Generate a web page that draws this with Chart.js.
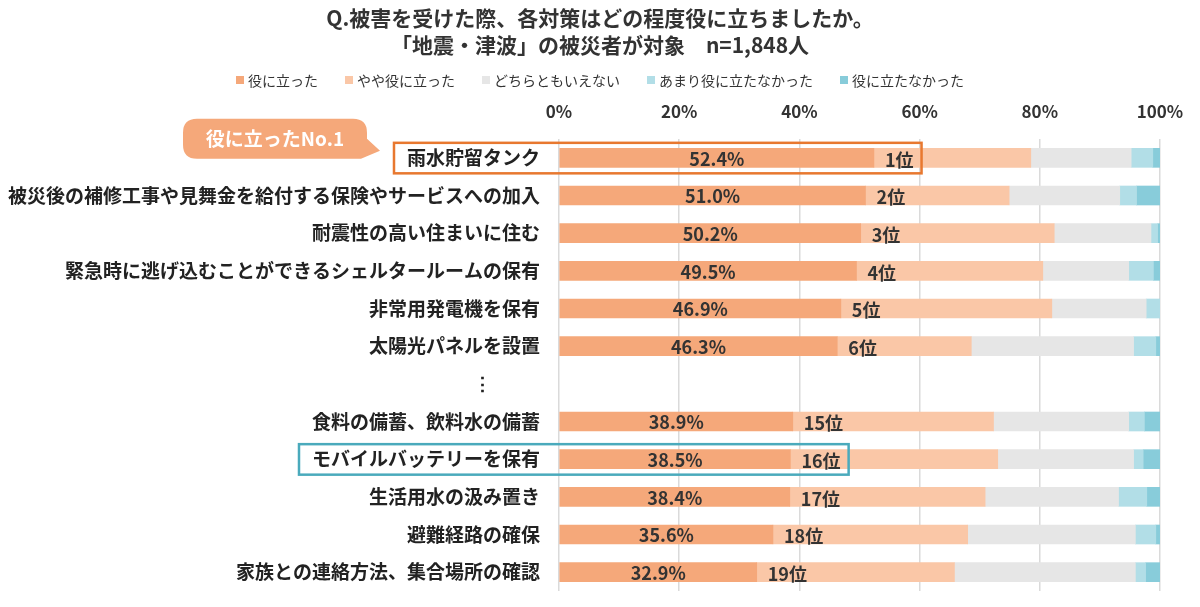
<!DOCTYPE html>
<html lang="ja">
<head>
<meta charset="utf-8">
<script src="https://cdn.jsdelivr.net/npm/chart.js@4.4.1/dist/chart.umd.min.js"></script>
<style>
  html, body { margin: 0; padding: 0; background: #ffffff; }
  #wrap { width: 1200px; height: 607px; position: relative; }
</style>
</head>
<body>
<div id="wrap"><canvas id="c" width="1200" height="607"></canvas></div>
<script>
const titleLines = ['Q.被害を受けた際、各対策はどの程度役に立ちましたか。', '「地震・津波」の被災者が対象　n=1,848人'];
const categories = ['雨水貯留タンク', '被災後の補修工事や見舞金を給付する保険やサービスへの加入', '耐震性の高い住まいに住む', '緊急時に逃げ込むことができるシェルタールームの保有', '非常用発電機を保有', '太陽光パネルを設置', '⋮\u3000\u3000\u2002', '食料の備蓄、飲料水の備蓄', 'モバイルバッテリーを保有', '生活用水の汲み置き', '避難経路の確保', '家族との連絡方法、集合場所の確認'];
const ranks = ['1位', '2位', '3位', '4位', '5位', '6位', '', '15位', '16位', '17位', '18位', '19位'];
const seriesNames = ['役に立った', 'やや役に立った', 'どちらともいえない', 'あまり役に立たなかった', '役に立たなかった'];
const helpful  = [52.4, 51.0, 50.2, 49.5, 46.9, 46.3, null, 38.9, 38.5, 38.4, 35.6, 32.9];
const somewhat = [26.1, 23.9, 32.2, 31.0, 35.1, 22.3, null, 33.4, 34.5, 32.5, 32.4, 32.9];
const neutral  = [16.7, 18.4, 16.1, 14.3, 15.7, 27.0, null, 22.5, 22.6, 22.2, 27.9, 30.1];
const notVery  = [3.6, 2.8, 1.1, 4.1, 2.3, 3.7, null, 2.6, 1.6, 4.7, 3.4, 1.7];
const notAtAll = [1.2, 3.9, 0.4, 1.1, 0.0, 0.7, null, 2.6, 2.8, 2.2, 0.7, 2.4];
const xTicks = [0, 20, 40, 60, 80, 100];
const calloutText = '役に立ったNo.1';

const colors = ['#F5A87A', '#FAC7A7', '#E6E6E6', '#B2DEE7', '#88CCDA'];
const FONT = '"Noto Sans CJK JP", "Noto Sans", sans-serif';
const highlights = [{ index: 0, color: '#E8782F' }, { index: 8, color: '#4AAABC' }];

const decorPlugin = {
  id: 'decor',
  afterDraw(chart) {
    const ctx = chart.ctx;
    const y = chart.scales.y;
    const meta0 = chart.getDatasetMeta(0);
    ctx.save();
    // title
    ctx.fillStyle = '#333333';
    ctx.font = 'bold 21px ' + FONT;
    ctx.textAlign = 'center';
    ctx.textBaseline = 'middle';
    ctx.fillText(titleLines[0], 600, 18);
    ctx.fillText(titleLines[1], 600, 45);
    // legend
    ctx.font = '14px ' + FONT;
    const box = 8, gapBox = 4, gapItem = 27;
    const widths = seriesNames.map(n => box + gapBox + ctx.measureText(n).width);
    const total = widths.reduce((a, b) => a + b, 0) + gapItem * (seriesNames.length - 1);
    let lx = 600 - total / 2;
    const ly = 80;
    ctx.textAlign = 'left';
    seriesNames.forEach((n, i) => {
      ctx.fillStyle = colors[i];
      ctx.fillRect(lx, ly - box / 2, box, box);
      ctx.fillStyle = '#333333';
      ctx.fillText(n, lx + box + gapBox, ly + 1);
      lx += widths[i] + gapItem;
    });
    // value and rank labels
    meta0.data.forEach((bar, i) => {
      if (helpful[i] == null) return;
      ctx.fillStyle = '#333333';
      ctx.font = 'bold 18px ' + FONT;
      ctx.textAlign = 'center';
      ctx.fillText(helpful[i].toFixed(1) + '%', (bar.base + bar.x) / 2, bar.y + 1);
      ctx.font = 'bold 18px ' + FONT;
      ctx.textAlign = 'left';
      ctx.fillText(ranks[i], bar.x + 11, bar.y + 2);
    });
    // highlight boxes
    highlights.forEach(h => {
      const bar = meta0.data[h.index];
      const cy = bar.y;
      ctx.font = 'bold 19px ' + FONT;
      const labelW = ctx.measureText(categories[h.index]).width;
      ctx.font = 'bold 18px ' + FONT;
      const rankW = ctx.measureText(ranks[h.index]).width;
      const left = y.right - 19 - labelW - 13;
      const right = bar.x + 11 + rankW + 8;
      ctx.strokeStyle = h.color;
      ctx.lineWidth = 2.5;
      ctx.strokeRect(left, cy - 15, right - left, 30.5);
      if (h.index === 0) {
        // callout bubble
        const bx1 = 183, bx2 = left - 27, by1 = cy - 39, by2 = cy + 1, r = 14;
        ctx.fillStyle = '#F5A87A';
        ctx.beginPath();
        ctx.moveTo(bx1 + r, by1);
        ctx.lineTo(bx2 - r, by1);
        ctx.quadraticCurveTo(bx2, by1, bx2, by1 + r);
        ctx.lineTo(bx2, by2 - r - 6);
        ctx.lineTo(left - 14, cy - 7);
        ctx.lineTo(bx2 - 6, by2);
        ctx.lineTo(bx1 + r, by2);
        ctx.quadraticCurveTo(bx1, by2, bx1, by2 - r);
        ctx.lineTo(bx1, by1 + r);
        ctx.quadraticCurveTo(bx1, by1, bx1 + r, by1);
        ctx.closePath();
        ctx.fill();
        ctx.fillStyle = '#ffffff';
        ctx.font = 'bold 19px ' + FONT;
        ctx.textAlign = 'center';
        ctx.fillText(calloutText, (bx1 + bx2) / 2, (by1 + by2) / 2);
      }
    });
    ctx.restore();
  }
};

const datasetsData = [helpful, somewhat, neutral, notVery, notAtAll];
new Chart(document.getElementById('c'), {
  type: 'bar',
  data: {
    labels: categories,
    datasets: datasetsData.map((d, i) => ({
      label: seriesNames[i],
      data: d,
      backgroundColor: colors[i],
      borderWidth: 0,
      barThickness: 19
    }))
  },
  options: {
    indexAxis: 'y',
    responsive: false,
    animation: false,
    layout: { padding: { top: 100, right: 40, bottom: 16, left: 0 } },
    plugins: { legend: { display: false }, title: { display: false }, tooltip: { enabled: false } },
    scales: {
      x: {
        type: 'linear', position: 'top', stacked: true, min: 0, max: 100,
        afterBuildTicks(scale) { scale.ticks = xTicks.map(v => ({ value: v })); },
        afterFit(scale) { scale.height = 39; scale.paddingLeft = 0; scale.paddingRight = 0; },
        ticks: {
          callback: v => v + '%',
          color: '#333333',
          font: { family: FONT, size: 17, weight: 'bold' },
          padding: 17
        },
        grid: { color: '#DADADA', drawTicks: false, lineWidth: 1.5 },
        border: { display: false }
      },
      y: {
        type: 'category', stacked: true,
        afterFit(scale) { scale.width = 559; scale.paddingTop = 0; scale.paddingBottom = 0; },
        ticks: {
          color: '#222222',
          font: { family: FONT, size: 19, weight: 'bold' },
          padding: 19,
          autoSkip: false
        },
        grid: { display: false, drawTicks: false },
        border: { display: false }
      }
    }
  },
  plugins: [decorPlugin]
});
</script>
</body>
</html>
